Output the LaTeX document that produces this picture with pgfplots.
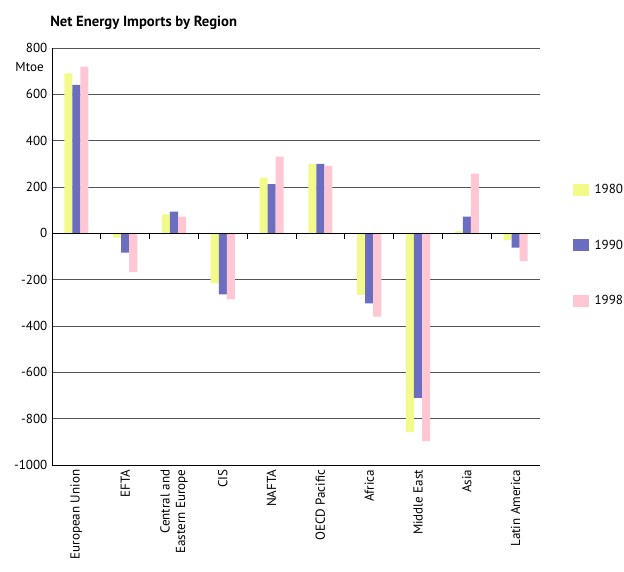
\documentclass[border=0pt]{standalone}
\usepackage{pgfplots}
\pgfplotsset{compat=1.18}
\usepackage{fontspec}
\setmainfont{PT Sans}
\definecolor{yr80}{HTML}{F2FA8A}
\definecolor{yr90}{HTML}{6B6DC0}
\definecolor{yr98}{HTML}{FFC6D3}
\definecolor{gridgray}{HTML}{555555}
\newcommand\lblfont{\fontsize{9.8}{11.5}\selectfont}

\begin{document}
\begin{tikzpicture}
\useasboundingbox (0pt,0pt) rectangle (468pt,428.25pt);
\node[anchor=base west, inner sep=0pt, font=\bfseries\fontsize{11}{13}\selectfont] at (37.5pt,408pt) {Net Energy Imports by Region};
\node[anchor=east, inner sep=0pt, font=\lblfont] at (33pt,378pt) {Mtoe};
\begin{axis}[
  at={(39pt,79.5pt)}, anchor=south west,
  scale only axis, width=366pt, height=312.75pt,
  xmin=0.5, xmax=10.5, ymin=-1000, ymax=800,
  ybar=0pt, bar width=0.165,
  axis x line*=bottom, axis y line*=left,
  axis line style={black, line width=0.6pt},
  ytick={-1000,-800,...,800},
  yticklabels={-1000,-800,-600,-400,-200,0,200,400,600,800},
  ymajorgrids, grid style={gridgray, line width=0.5pt},
  xtick={1,...,10},
  xticklabels={European Union, EFTA, {Central and\\Eastern Europe}, CIS, NAFTA, OECD Pacific, Africa, Middle East, Asia, Latin America},
  xticklabel style={rotate=90, anchor=east, align=right},
  major tick length=0pt,
  tick label style={font=\lblfont},
  legend style={at={(1.058,0.686)}, anchor=north west, draw=none, fill=none,
    row sep=29pt, font=\lblfont, nodes={inner xsep=4.5pt}},
  legend cell align=left,
  legend image code/.code={\fill[#1, draw=none] (0pt,-4.5pt) rectangle (12pt,4.5pt);},
]
\addplot[fill=yr80, draw=none] coordinates {(1,690)(2,-18)(3,82)(4,-216)(5,240)(6,300)(7,-266)(8,-858)(9,8)(10,-28)};
\addplot[fill=yr90, draw=none] coordinates {(1,641)(2,-83)(3,94)(4,-263)(5,212)(6,300)(7,-302)(8,-710)(9,72)(10,-62)};
\addplot[fill=yr98, draw=none] coordinates {(1,720)(2,-167)(3,72)(4,-285)(5,331)(6,291)(7,-360)(8,-897)(9,258)(10,-120)};
\legend{1980,1990,1998}
% zero line with category separators
\draw[black, line width=0.6pt] (axis cs:0.5,0) -- (axis cs:10.5,0);
\pgfplotsinvokeforeach{1.5,2.5,3.5,4.5,5.5,6.5,7.5,8.5,9.5,10.5}{
  \draw[black, line width=0.5pt] (axis cs:#1,0) -- ++(0pt,-4.5pt);
}
\end{axis}
\end{tikzpicture}
\end{document}
